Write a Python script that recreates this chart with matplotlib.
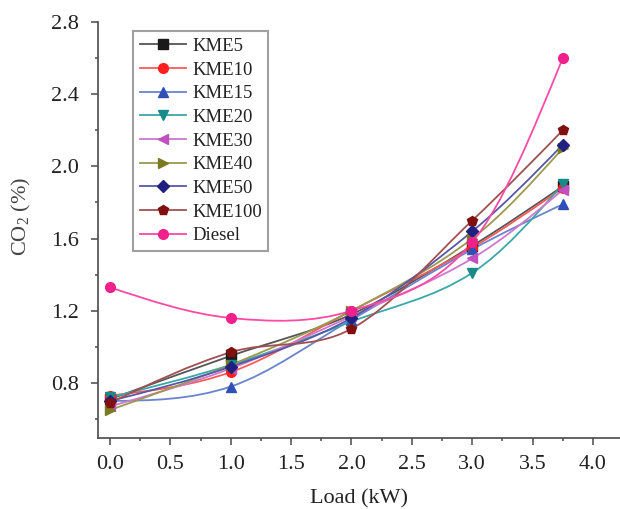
import numpy as np
import matplotlib
matplotlib.use("Agg")
import matplotlib.pyplot as plt
from matplotlib.path import Path
from matplotlib.patches import PathPatch
from matplotlib.lines import Line2D
from matplotlib.ticker import MultipleLocator

plt.rcParams['font.family'] = ['Liberation Serif', 'DejaVu Serif']
plt.rcParams['mathtext.default'] = 'regular'

# ---- data ----
load = [0, 1, 2, 3, 3.75]
series_names = ["KME5", "KME10", "KME15", "KME20", "KME30", "KME40", "KME50", "KME100", "Diesel"]
kme5 = [0.71, 0.95, 1.18, 1.56, 1.89]
kme10 = [0.73, 0.86, 1.20, 1.55, 1.88]
kme15 = [0.70, 0.78, 1.15, 1.54, 1.79]
kme20 = [0.72, 0.90, 1.14, 1.41, 1.90]
kme30 = [0.67, 0.88, 1.17, 1.49, 1.87]
kme40 = [0.65, 0.90, 1.20, 1.60, 2.10]
kme50 = [0.70, 0.89, 1.16, 1.64, 2.12]
kme100 = [0.69, 0.97, 1.10, 1.70, 2.20]
diesel = [1.33, 1.16, 1.20, 1.58, 2.60]
series_values = [kme5, kme10, kme15, kme20, kme30, kme40, kme50, kme100, diesel]

# ---- styles ----
markers = ['s', 'o', '^', 'v', '<', '>', 'D', 'p', 'o']
marker_colors = ['#1a1a1a', '#ff2020', '#3050b8', '#188a8a', '#c050c0',
                 '#7a7a20', '#202080', '#801010', '#f0208c']
line_colors = ['#555555', '#ff5a5a', '#6a84cc', '#3aa8a8', '#cc78cc',
               '#9a9a50', '#5858a8', '#a05050', '#ff4aa5']
marker_sizes = [6.5, 7, 7.5, 7.5, 7.5, 7.5, 6.5, 7.5, 7]


def smooth_path(xs, ys):
    xs = np.asarray(xs, float)
    ys = np.asarray(ys, float)
    n = len(xs)
    sec = np.diff(ys) / np.diff(xs)
    s = np.empty(n)
    s[1:-1] = (ys[2:] - ys[:-2]) / (xs[2:] - xs[:-2])
    s[0] = 1.5 * sec[0] - 0.5 * s[1]
    s[-1] = 1.5 * sec[-1] - 0.5 * s[-2]
    verts = [(xs[0], ys[0])]
    codes = [Path.MOVETO]
    for i in range(n - 1):
        h = xs[i + 1] - xs[i]
        verts += [(xs[i] + h / 3, ys[i] + s[i] * h / 3),
                  (xs[i + 1] - h / 3, ys[i + 1] - s[i + 1] * h / 3),
                  (xs[i + 1], ys[i + 1])]
        codes += [Path.CURVE4] * 3
    return Path(verts, codes)


fig = plt.figure(figsize=(6.2, 5.09), dpi=100)
ax = fig.add_axes([98 / 620, 71 / 509, 522 / 620, 416 / 509])

handles = []
for k, (name, vals) in enumerate(zip(series_names, series_values)):
    patch = PathPatch(smooth_path(load, vals), facecolor='none',
                      edgecolor=line_colors[k], lw=1.3, zorder=2 + k * 0.01)
    ax.add_patch(patch)
    ax.plot(load, vals, linestyle='none', marker=markers[k],
            ms=marker_sizes[k], mfc=marker_colors[k], mec=marker_colors[k],
            zorder=3 + k * 0.01)
    handles.append(Line2D([], [], color=line_colors[k], lw=1.3,
                          marker=markers[k], ms=marker_sizes[k],
                          mfc=marker_colors[k], mec=marker_colors[k]))

ax.set_xlim(-0.099, 4.224)
ax.set_ylim(0.495, 2.8)

ax.xaxis.set_major_locator(MultipleLocator(0.5))
ax.xaxis.set_minor_locator(MultipleLocator(0.25))
ax.yaxis.set_major_locator(MultipleLocator(0.4))
ax.yaxis.set_minor_locator(MultipleLocator(0.2))
ax.set_xticks([0, 0.5, 1, 1.5, 2, 2.5, 3, 3.5, 4])
ax.set_xticklabels(["0.0", "0.5", "1.0", "1.5", "2.0", "2.5", "3.0", "3.5", "4.0"])
ax.set_yticks([0.8, 1.2, 1.6, 2.0, 2.4, 2.8])
ax.set_yticklabels(["0.8", "1.2", "1.6", "2.0", "2.4", "2.8"])

for side in ['top', 'right']:
    ax.spines[side].set_visible(False)
for side in ['left', 'bottom']:
    ax.spines[side].set_color('#4a4a4a')
    ax.spines[side].set_linewidth(1.2)

ax.tick_params(axis='both', which='major', direction='out', length=5,
               width=1.1, color='#4a4a4a', labelsize=16, labelcolor='#222222')
ax.tick_params(axis='both', which='minor', direction='out', length=2.5,
               width=1.1, color='#4a4a4a')
ax.tick_params(axis='y', which='major', pad=9)
ax.tick_params(axis='x', which='major', pad=7)

ax.set_xlabel("Load (kW)", fontsize=16, color='#222222', labelpad=11)
ax.set_ylabel(r"CO$_2$ (%)", fontsize=16, color='#444444')
ax.yaxis.set_label_coords(-0.124, 0.534)

leg = ax.legend(handles, series_names, loc='upper left',
                bbox_to_anchor=(0.067, 0.978), borderaxespad=0,
                fontsize=13.5, frameon=True, fancybox=False,
                handlelength=2.5, handletextpad=0.3, labelspacing=0.35,
                borderpad=0.35)
leg.get_frame().set_edgecolor('#888888')
leg.get_frame().set_linewidth(1.5)
for t in leg.get_texts():
    t.set_color('#222222')

fig.savefig("out.png", dpi=100)
